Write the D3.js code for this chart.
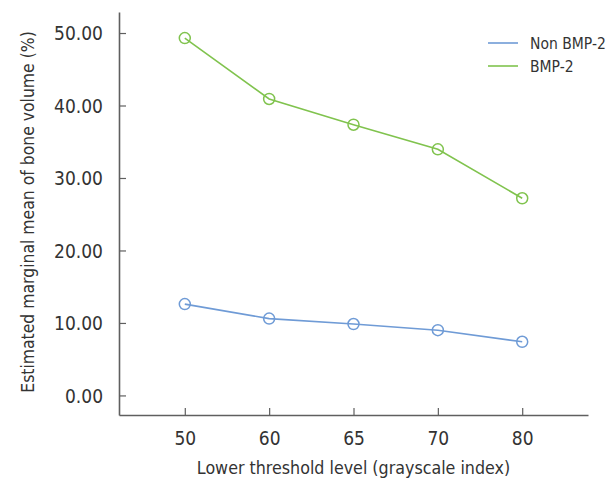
<!DOCTYPE html>
<html>
<head>
<meta charset="utf-8">
<script src="https://cdn.jsdelivr.net/npm/d3@7"></script>
<style>
  body { margin: 0; background: #fff; }
  svg { display: block; }
  text { font-family: "Liberation Sans Narrow", "DejaVu Sans Condensed", sans-serif; fill: #333; }
</style>
</head>
<body>
<svg></svg>
<script>
const width = 614;
const height = 482;

const thresholds = ["50", "60", "65", "70", "80"];
const nonBmp = [12.6, 10.6, 9.85, 9.0, 7.4];
const bmp = [49.3, 40.9, 37.35, 33.95, 27.2];
const yTicks = [0, 10, 20, 30, 40, 50];
const seriesNames = ["Non BMP-2", "BMP-2"];
const colors = ["#6f9bd6", "#80c34e"];

const svg = d3.select("svg")
    .attr("width", width)
    .attr("height", height);

const x = d3.scalePoint()
    .domain(thresholds)
    .range([119, 588])
    .padding(0.78);

const y = d3.scaleLinear()
    .domain([-2.7, 52.9])
    .range([415, 12]);

// axes
const xAxis = svg.append("g")
    .attr("transform", "translate(0,415)")
    .call(d3.axisBottom(x).tickSizeInner(-7).tickSizeOuter(0).tickPadding(16));

const yAxis = svg.append("g")
    .attr("transform", "translate(119,0)")
    .call(d3.axisLeft(y).tickValues(yTicks).tickFormat(d3.format(".2f"))
        .tickSizeInner(-7).tickSizeOuter(0).tickPadding(16));

[xAxis, yAxis].forEach(g => {
    g.select(".domain").attr("stroke", "#5f5f5f").attr("stroke-width", 1.6);
    g.selectAll(".tick line").attr("stroke", "#5f5f5f").attr("stroke-width", 1.2);
    g.selectAll(".tick text").attr("fill", "#2e2e2e").style("font-size", "19px")
        .style("font-family", '"Liberation Sans Narrow", "DejaVu Sans Condensed", sans-serif');
});
yAxis.selectAll(".tick text").attr("dy", "0.36em");
xAxis.selectAll(".tick text").attr("dy", "0.72em");

// axis titles
svg.append("text")
    .attr("x", 353.5)
    .attr("y", 474)
    .attr("text-anchor", "middle")
    .style("font-size", "17.7px")
    .text("Lower threshold level (grayscale index)");

svg.append("text")
    .attr("transform", "translate(34,212) rotate(-90)")
    .attr("text-anchor", "middle")
    .style("font-size", "17.4px")
    .text("Estimated marginal mean of bone volume (%)");

// series
const series = [nonBmp, bmp];
const line = d3.line()
    .x((d, i) => x(thresholds[i]))
    .y(d => y(d));

series.forEach((vals, s) => {
    svg.append("path")
        .datum(vals)
        .attr("fill", "none")
        .attr("stroke", colors[s])
        .attr("stroke-width", 1.6)
        .attr("d", line);

    svg.append("g").selectAll("circle")
        .data(vals)
        .join("circle")
        .attr("cx", (d, i) => x(thresholds[i]))
        .attr("cy", d => y(d))
        .attr("r", 5.5)
        .attr("fill", "none")
        .attr("stroke", colors[s])
        .attr("stroke-width", 1.5);
});

// legend
const legend = svg.append("g").selectAll("g")
    .data(seriesNames)
    .join("g")
    .attr("transform", (d, i) => `translate(488,${43 + i * 23})`);

legend.append("line")
    .attr("x1", 0).attr("x2", 30)
    .attr("stroke", (d, i) => colors[i])
    .attr("stroke-width", 1.6);

legend.append("text")
    .attr("x", 42)
    .attr("dy", "0.36em")
    .style("font-size", "15.5px")
    .text(d => d);
</script>
</body>
</html>
